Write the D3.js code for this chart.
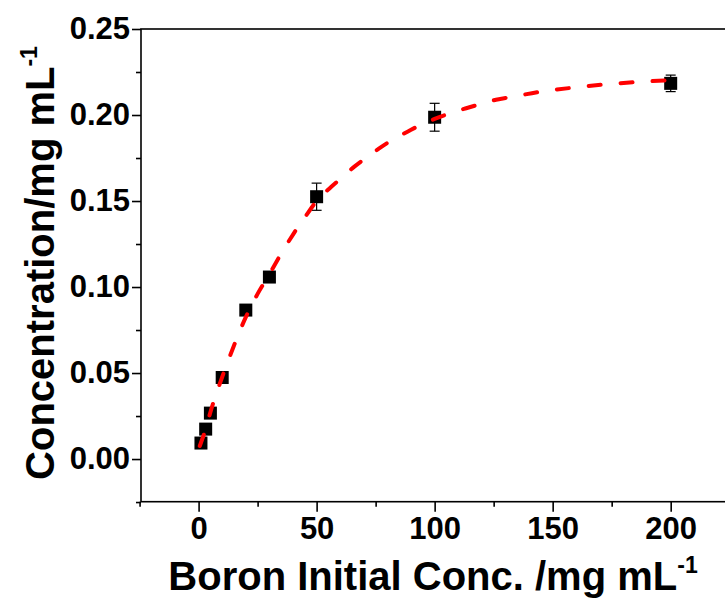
<!DOCTYPE html>
<html>
<head>
<meta charset="utf-8">
<script src="https://cdn.jsdelivr.net/npm/d3@7"></script>
<style>
  body { margin: 0; background: #fff; }
  svg { display: block; font-family: "Liberation Sans", Arial, sans-serif; font-weight: bold; }
</style>
</head>
<body>
<div id="chart"></div>
<script>
// measured points
const conc = [1, 3, 5, 10, 20, 30, 50, 100, 200];
const adsorbed = [0.0093, 0.0174, 0.0267, 0.0474, 0.0866, 0.1058, 0.1525, 0.1987, 0.2184];
const errors = [0.001, 0.001, 0.001, 0.0015, 0.002, 0.0025, 0.0079, 0.0081, 0.0048];

// fitted curve
const fitX = [0.5, 1, 3, 5, 10, 15, 20, 25, 30, 35, 40, 45, 50, 56, 60, 66, 71, 76.5, 82, 88.5, 94, 100, 106.5, 113, 119, 126, 133, 146, 160, 174, 188, 200.8];
const fitY = [0.0076, 0.0095, 0.0174, 0.0272, 0.0477, 0.066, 0.0825, 0.096, 0.1075, 0.1195, 0.1305, 0.1405, 0.15, 0.158, 0.1628, 0.17, 0.1752, 0.1806, 0.1855, 0.1903, 0.1942, 0.1977, 0.201, 0.2038, 0.2062, 0.2089, 0.2106, 0.2138, 0.2161, 0.218, 0.2194, 0.2203];

const xMajor = [0, 50, 100, 150, 200];
const xMinor = [-25, 25, 75, 125, 175, 225];
const yMajor = [0, 0.05, 0.10, 0.15, 0.20, 0.25];
const yMinor = [-0.025, 0.025, 0.075, 0.125, 0.175, 0.225];

const w = 725,
      h = 599;

const svg = d3.select('#chart')
              .append('svg')
              .attr('width', w)
              .attr('height', h);

const x = d3.scaleLinear().domain([-24.4, 225]).range([141, 729.7]);
const y = d3.scaleLinear().domain([-0.0248, 0.25]).range([501.7, 29]);

// minor ticks first, then labelled ones
svg.append('g')
   .attr('transform', `translate(0, ${y.range()[0]})`)
   .call(d3.axisBottom(x).tickValues(xMinor).tickSize(5).tickFormat(''));
svg.append('g')
   .attr('class', 'xmaj')
   .attr('transform', `translate(0, ${y.range()[0]})`)
   .call(d3.axisBottom(x).tickValues(xMajor).tickSize(10).tickPadding(5).tickFormat(d3.format('d')));

svg.append('g')
   .attr('transform', `translate(${x.range()[0]}, 0)`)
   .call(d3.axisLeft(y).tickValues(yMinor).tickSize(5).tickFormat(''));
svg.append('g')
   .attr('class', 'ymaj')
   .attr('transform', `translate(${x.range()[0]}, 0)`)
   .call(d3.axisLeft(y).tickValues(yMajor).tickSize(9).tickPadding(2).tickFormat(d3.format('.2f')));

svg.selectAll('.domain').remove();
svg.selectAll('.tick line').attr('stroke', '#000').attr('stroke-width', 1.6);
svg.selectAll('.tick text')
   .attr('fill', '#000')
   .style('font-size', '31px')
   .style('font-family', '"Liberation Sans", Arial, sans-serif')
   .style('font-weight', 'bold');

// frame
svg.append('rect')
   .attr('x', x.range()[0])
   .attr('y', y.range()[1])
   .attr('width', x.range()[1] - x.range()[0])
   .attr('height', y.range()[0] - y.range()[1])
   .attr('fill', 'none')
   .attr('stroke', '#000')
   .attr('stroke-width', 1.6);

// error bars
const eb = svg.append('g').attr('stroke', '#000').attr('stroke-width', 1.2);
conc.forEach((c, i) => {
  const cx = x(c), top = y(adsorbed[i] + errors[i]), bot = y(adsorbed[i] - errors[i]);
  eb.append('line').attr('x1', cx).attr('x2', cx).attr('y1', top).attr('y2', bot);
  eb.append('line').attr('x1', cx - 5).attr('x2', cx + 5).attr('y1', top).attr('y2', top);
  eb.append('line').attr('x1', cx - 5).attr('x2', cx + 5).attr('y1', bot).attr('y2', bot);
});

// squares
const sz = 13;
svg.selectAll('rect.pt')
   .data(conc)
   .enter()
   .append('rect')
   .attr('class', 'pt')
   .attr('x', d => x(d) - sz / 2)
   .attr('y', (d, i) => y(adsorbed[i]) - sz / 2)
   .attr('width', sz)
   .attr('height', sz)
   .attr('fill', '#000');

// dashed fit line on top
const line = d3.line()
               .x(d => x(d[0]))
               .y(d => y(d[1]))
               .curve(d3.curveMonotoneX);

svg.append('path')
   .datum(fitX.map((v, i) => [v, fitY[i]]))
   .attr('d', line)
   .attr('fill', 'none')
   .attr('stroke', '#ff0000')
   .attr('stroke-width', 4)
   .attr('stroke-linecap', 'round')
   .attr('stroke-dasharray', '12 20');

// titles
const xt = svg.append('text')
              .attr('x', 433)
              .attr('y', 590)
              .attr('text-anchor', 'middle')
              .style('font-size', '40px');
xt.append('tspan').text('Boron Initial Conc. /mg mL');
xt.append('tspan').attr('dy', -17).style('font-size', '23px').text('-1');

const yt = svg.append('text')
              .attr('transform', 'translate(54, 263) rotate(-90)')
              .attr('text-anchor', 'middle')
              .style('font-size', '40px');
yt.append('tspan').text('Concentration/mg mL');
yt.append('tspan').attr('dy', -17).style('font-size', '23px').text('-1');
</script>
</body>
</html>
